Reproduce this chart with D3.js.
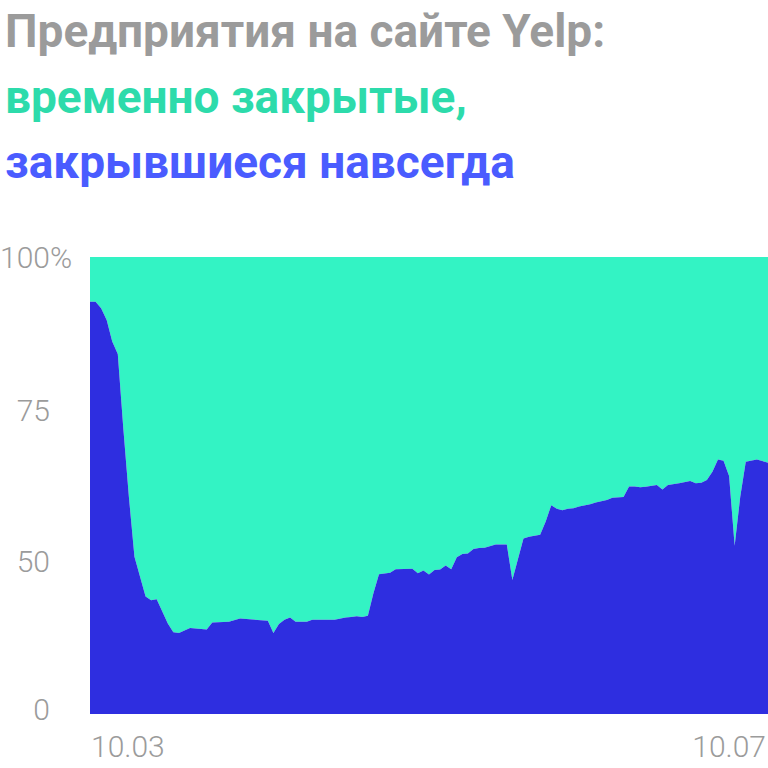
<!DOCTYPE html>
<html><head><meta charset="utf-8">
<script src="https://cdn.jsdelivr.net/npm/d3@7"></script>
<style>html,body{margin:0;padding:0;background:#fff;}svg{display:block;}</style>
</head><body>
<svg id="chart" width="768" height="768"></svg>
<script>
const titleLines = ["Предприятия на сайте Yelp:", "временно закрытые,", "закрывшиеся навсегда"];
const titleColors = ["#9b9b9b", "#2ddbab", "#4a5cff"];
const dates = ["03-10","03-11","03-12","03-13","03-14","03-15","03-16","03-17","03-18","03-20","03-21","03-22","03-24","03-25","03-26","03-28","03-31","04-01","04-04","04-06","04-11","04-12","04-13","04-14","04-15","04-16","04-18","04-19","04-23","04-25","04-26","04-27","04-28","04-29","04-30","05-01","05-03","05-04","05-07","05-08","05-09","05-10","05-11","05-12","05-13","05-14","05-15","05-16","05-17","05-18","05-19","05-20","05-22","05-24","05-25","05-27","05-28","05-30","05-31","06-01","06-02","06-03","06-04","06-05","06-06","06-08","06-09","06-11","06-12","06-14","06-15","06-16","06-17","06-18","06-20","06-21","06-22","06-24","06-26","06-27","06-28","06-29","06-30","07-01","07-02","07-03","07-04","07-05","07-06","07-08","07-10"];
const closedShare = [90.2,90.2,88.8,86.2,81.5,78.8,62.4,47.5,34.4,25.7,24.9,25.1,19.8,17.9,17.7,18.8,18.5,20.0,20.2,20.9,20.4,17.7,19.7,20.6,21.1,20.2,20.2,20.6,20.6,21.1,21.2,21.4,21.2,21.5,26.4,30.6,30.9,31.7,31.8,30.8,31.4,30.5,31.5,31.6,32.5,31.7,34.3,35.0,35.1,36.1,36.3,36.4,37.1,37.1,29.3,38.4,38.8,39.2,42.1,45.7,44.9,44.6,44.9,45.0,45.4,45.9,46.3,46.8,47.3,47.5,49.8,49.8,49.6,49.7,50.1,49.1,50.1,50.5,51.0,50.5,50.6,51.2,53.0,55.7,55.4,52.1,36.8,47.5,55.2,55.7,55.0];
const yTickValues = [1, 33.5, 66.5, 100];
const yTickLabels = ["0", "50", "75", "100"];
const xTickDates = ["03-10", "07-10"];
const xTickLabels = ["10.03", "10.07"];

const parse = d3.timeParse("%Y-%m-%d");
const data = dates.map((d, i) => ({date: parse("2020-" + d), v: closedShare[i]}));

const svg = d3.select("#chart");
const mLeft = 90, mRight = 768, mTop = 257, mBottom = 714;
const x = d3.scaleTime().domain(d3.extent(data, d => d.date)).range([mLeft, mRight]);
const y = d3.scaleLinear().domain([0, 100]).range([mBottom, mTop]);

// title
svg.append("g").selectAll("text").data(titleLines).join("text")
  .attr("x", 5).attr("y", (d, i) => 47 + i * 65.5)
  .attr("fill", (d, i) => titleColors[i])
  .style("font-family", "Roboto, sans-serif").style("font-weight", 700).style("font-size", "46px")
  .text(d => d);

// temporarily closed (green) fills to top
svg.append("path").datum(data)
  .attr("fill", "#33f3c4")
  .attr("d", d3.area().x(d => x(d.date)).y0(y(100)).y1(d => y(d.v)));
// permanently closed (blue)
svg.append("path").datum(data)
  .attr("fill", "#2e2ee0")
  .attr("d", d3.area().x(d => x(d.date)).y0(y(0)).y1(d => y(d.v)));

// y labels
const yg = svg.append("g").style("font-family", "Roboto, sans-serif").style("font-weight", 300)
  .style("font-size", "30px").attr("fill", "#9b9b9b");
yTickValues.forEach((t, i) => {
  yg.append("text").attr("x", 50).attr("y", y(t)).attr("dy", "0.36em")
    .attr("text-anchor", "end").text(yTickLabels[i]);
  if (i === yTickValues.length - 1)
    yg.append("text").attr("x", 50).attr("y", y(t)).attr("dy", "0.36em").text("%");
});

// x labels
const xg = svg.append("g").style("font-family", "Roboto, sans-serif").style("font-weight", 300)
  .style("font-size", "30px").attr("fill", "#9b9b9b");
xTickDates.forEach((d, i) => {
  const px = x(parse("2020-" + d));
  xg.append("text").attr("x", i === 0 ? px + 1 : px - 2).attr("y", 757)
    .attr("text-anchor", i === 0 ? "start" : "end").text(xTickLabels[i]);
});
</script>
</body></html>
